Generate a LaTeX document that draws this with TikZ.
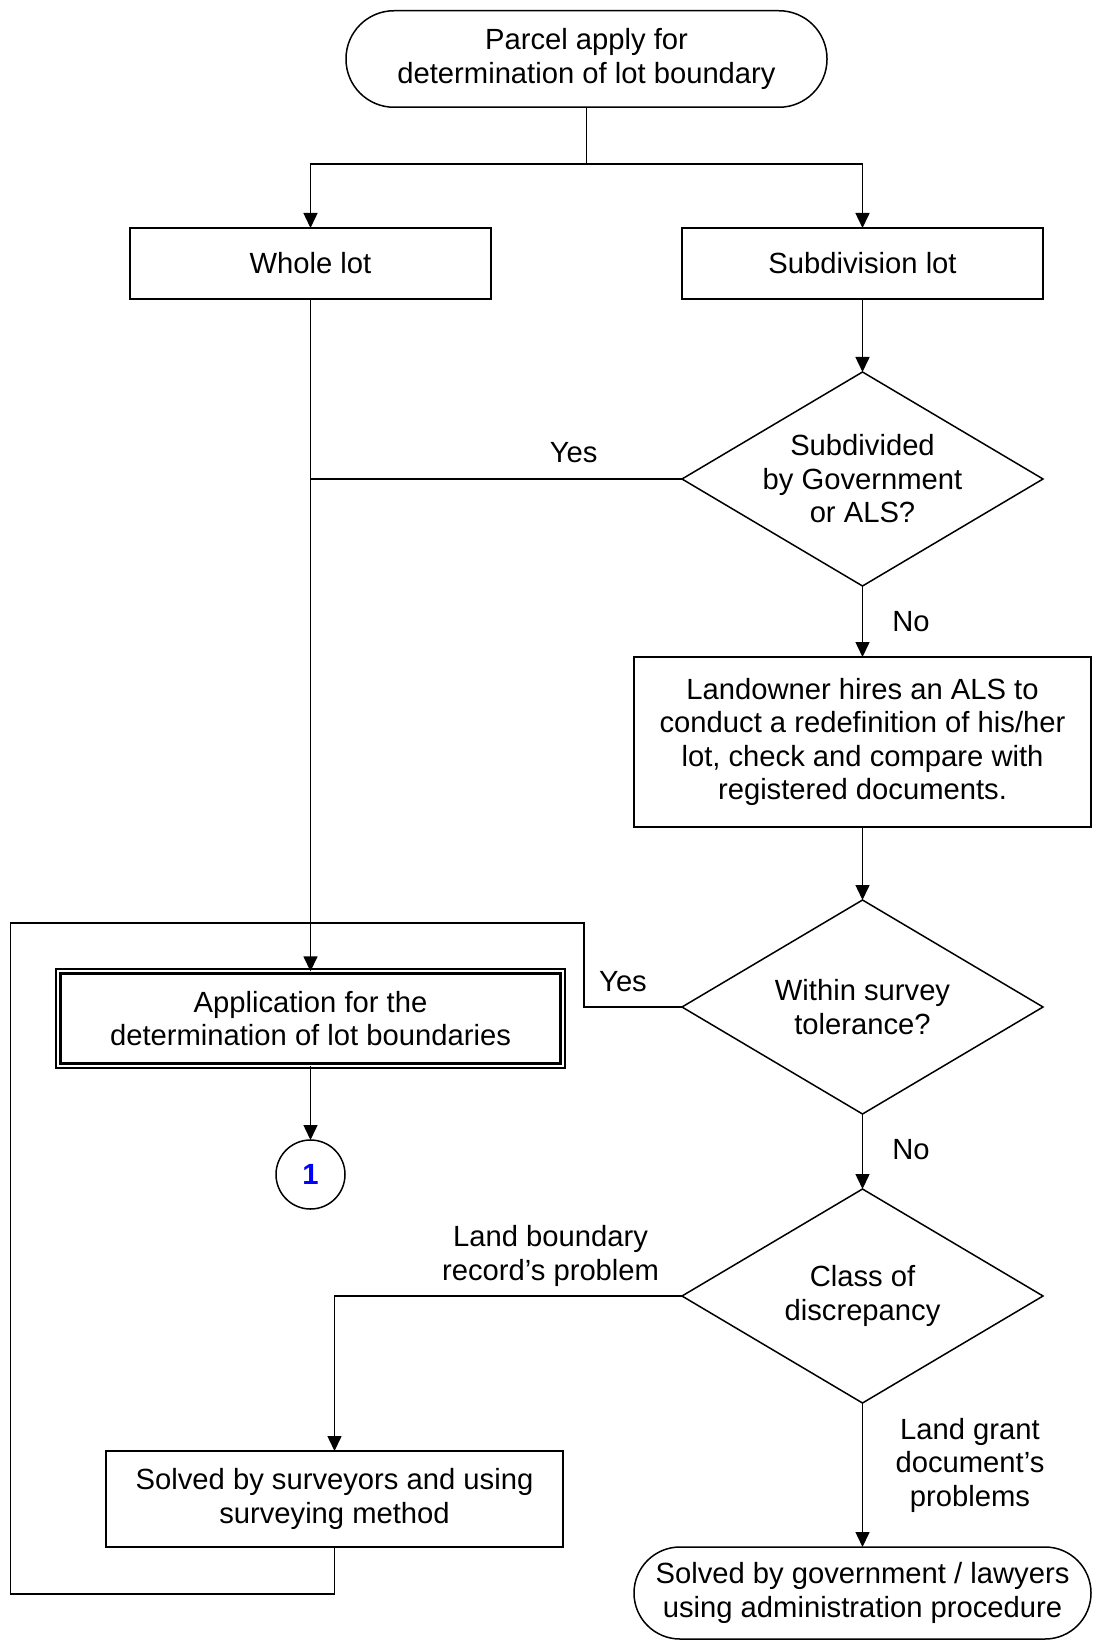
\documentclass[tikz,border=0pt]{standalone}
\usepackage{fontspec}
\setmainfont{Liberation Sans}
\usepackage{tikz}
\usetikzlibrary{arrows.meta,positioning,calc,shapes.geometric}
\definecolor{flowline}{HTML}{000000}
\definecolor{flowblue}{HTML}{0000FF}

\begin{document}
\begin{tikzpicture}[x=0.5pt,y=-0.5pt,
  every node/.style={font=\fontsize{14.6}{16.75}\selectfont, align=center, inner sep=0pt, outer sep=0pt},
  line/.style={draw=flowline, line width=0.75pt},
  arr/.style={line, -{Triangle[length=7.5pt,width=7pt]}},
  procbox/.style={line, rectangle},
  termbox/.style={line, rectangle, rounded corners=23pt},
  decbox/.style={line, diamond, aspect=1.687, inner sep=-1.5pt, minimum width=180.5pt, minimum height=107pt},
  lbl/.style={text=flowline}]
\useasboundingbox (0,0) rectangle (1096,1641);

% nodes
\node[termbox, rounded corners=24pt, minimum width=240.5pt, minimum height=48.25pt] (start) at (586.5,59)
  {Parcel apply for\\determination of lot boundary};
\node[procbox, minimum width=180.5pt, minimum height=35.5pt] (whole) at (310.5,263.5) {Whole lot};
\node[procbox, minimum width=180.5pt, minimum height=35.5pt] (sub) at (862.5,263.5) {Subdivision lot};
\node[decbox] (d1) at (862.5,479) {Subdivided\\by Government\\or ALS?};
\node[procbox, minimum width=228.5pt, minimum height=85pt] (land) at (862.5,742)
  {Landowner hires an ALS to\\conduct a redefinition of his/her\\lot, check and compare with\\registered documents.};
\node[decbox] (d2) at (862.5,1007) {Within survey\\tolerance?};
\node[procbox, line width=1.15pt, double, double distance=1pt, minimum width=252.2pt, minimum height=47.2pt] (app) at (310.5,1018.5)
  {Application for the\\determination of lot boundaries};
\node[line, circle, minimum size=34.5pt, text=flowblue, font=\fontsize{14.6}{16.75}\selectfont\bfseries] (one) at (310.5,1174.5) {1};
\node[decbox] (d3) at (862.5,1296) {Class of\\discrepancy};
\node[procbox, minimum width=228.5pt, minimum height=48pt] (solved) at (334.5,1499)
  {Solved by surveyors and using\\surveying method};
\node[termbox, minimum width=228.5pt, minimum height=46pt] (end) at (862.5,1593)
  {Solved by government / lawyers\\using administration procedure};

% labels
\node[lbl] (yes1) at (573.6,453) {Yes};
\node[lbl] (no1) at (911,622) {No};
\node[lbl] (yes2) at (623,982) {Yes};
\node[lbl] (no2) at (911,1150) {No};
\node[lbl] (recprob) at (550.6,1256) {Land boundary\\record's problem};
\node[lbl] (grantprob) at (970,1465) {Land grant\\document's\\problems};

% connectors
\coordinate (split) at (586.5,164);
\draw[line] (start.south) -- (split);
\draw[arr] (split) -| (whole.north);
\draw[arr] (split) -| (sub.north);
\draw[arr] (sub.south) -- (d1.north);
\draw[line] (d1.west) -- (d1.west -| whole.south);
\draw[arr] (d1.south) -- (land.north);
\draw[arr] (land.south) -- (d2.north);
\draw[arr] (whole.south) -- (app.north);
\draw[arr] (app.south) -- (one.north);
\draw[arr] (d2.south) -- (d3.north);
\draw[arr] (d3.west) -| (solved.north);
\draw[arr] (d3.south) -- (end.north);

\coordinate (lpbot) at (10.5,1594);
\coordinate (lptop) at (10.5,923);
\coordinate (lpstep) at (584,923);
\draw[line] (solved.south) |- (lpbot) -- (lptop) -- (lpstep) |- (d2.west);
\end{tikzpicture}
\end{document}
